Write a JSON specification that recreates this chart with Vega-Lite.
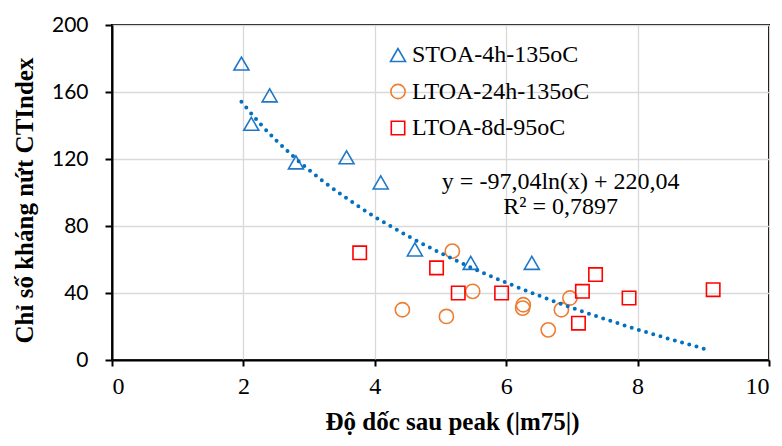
{
  "$schema": "https://vega.github.io/schema/vega-lite/v6.json",
  "autosize": "none",
  "width": 657,
  "height": 335,
  "padding": {"left": 112, "top": 25, "right": 13, "bottom": 86},
  "background": "white",
  "config": {
    "view": {"stroke": "#000000", "strokeWidth": 2},
    "axis": {
      "grid": true,
      "gridColor": "#d9d9d9",
      "gridWidth": 1.3,
      "domainColor": "#000000",
      "domainWidth": 2,
      "tickColor": "#000000",
      "tickWidth": 2,
      "tickSize": 7,
      "labelColor": "#000000",
      "titleColor": "#000000",
      "titleFont": "Liberation Serif",
      "titleFontWeight": "bold",
      "titleFontSize": 25
    },
    "axisX": {
      "labelFont": "Liberation Serif, Times New Roman, serif",
      "labelFontSize": 24,
      "labelPadding": 8,
      "tickSize": 6,
      "titlePadding": 11
    },
    "axisY": {
      "labelFont": "Lato",
      "labelFontSize": 21,
      "labelPadding": 17,
      "titlePadding": 14
    },
    "legend": {
      "labelFont": "Liberation Serif",
      "labelFontSize": 24,
      "labelColor": "#000000",
      "labelLimit": 400,
      "symbolSize": 170,
      "symbolStrokeWidth": 1.6,
      "labelOffset": 2,
      "rowPadding": 12.5,
      "padding": 0
    }
  },
  "datasets": {
    "points": [
      {"series": "STOA-4h-135oC", "x": 1.97, "y": 177},
      {"series": "STOA-4h-135oC", "x": 2.40, "y": 158},
      {"series": "STOA-4h-135oC", "x": 2.12, "y": 141},
      {"series": "STOA-4h-135oC", "x": 2.80, "y": 118},
      {"series": "STOA-4h-135oC", "x": 3.57, "y": 121},
      {"series": "STOA-4h-135oC", "x": 4.09, "y": 106},
      {"series": "STOA-4h-135oC", "x": 4.61, "y": 66},
      {"series": "STOA-4h-135oC", "x": 5.46, "y": 58},
      {"series": "STOA-4h-135oC", "x": 6.39, "y": 58},
      {"series": "LTOA-24h-135oC", "x": 4.42, "y": 30},
      {"series": "LTOA-24h-135oC", "x": 5.09, "y": 26},
      {"series": "LTOA-24h-135oC", "x": 5.18, "y": 65},
      {"series": "LTOA-24h-135oC", "x": 5.49, "y": 41},
      {"series": "LTOA-24h-135oC", "x": 6.26, "y": 33},
      {"series": "LTOA-24h-135oC", "x": 6.25, "y": 31},
      {"series": "LTOA-24h-135oC", "x": 6.97, "y": 37},
      {"series": "LTOA-24h-135oC", "x": 6.84, "y": 30},
      {"series": "LTOA-24h-135oC", "x": 6.64, "y": 18},
      {"series": "LTOA-8d-95oC", "x": 3.77, "y": 64},
      {"series": "LTOA-8d-95oC", "x": 4.94, "y": 55},
      {"series": "LTOA-8d-95oC", "x": 5.27, "y": 40},
      {"series": "LTOA-8d-95oC", "x": 5.93, "y": 40},
      {"series": "LTOA-8d-95oC", "x": 7.16, "y": 41},
      {"series": "LTOA-8d-95oC", "x": 7.36, "y": 51},
      {"series": "LTOA-8d-95oC", "x": 7.10, "y": 22},
      {"series": "LTOA-8d-95oC", "x": 7.87, "y": 37},
      {"series": "LTOA-8d-95oC", "x": 9.15, "y": 42}
    ],
    "trend": [
      {"x": 1.97, "y": 154.2},
      {"x": 2.25, "y": 141.3},
      {"x": 2.5, "y": 131.1},
      {"x": 2.75, "y": 121.9},
      {"x": 3.0, "y": 113.4},
      {"x": 3.5, "y": 98.5},
      {"x": 4.0, "y": 85.5},
      {"x": 4.5, "y": 74.1},
      {"x": 5.0, "y": 63.9},
      {"x": 5.5, "y": 54.6},
      {"x": 6.0, "y": 46.2},
      {"x": 6.5, "y": 38.4},
      {"x": 7.0, "y": 31.2},
      {"x": 7.5, "y": 24.5},
      {"x": 8.0, "y": 18.2},
      {"x": 8.5, "y": 12.4},
      {"x": 9.05, "y": 6.3}
    ]
  },
  "layer": [
    {
      "data": {"name": "points"},
      "mark": {"type": "point", "filled": false, "strokeWidth": 1.6, "opacity": 1},
      "encoding": {
        "x": {
          "field": "x", "type": "quantitative",
          "scale": {"domain": [0, 10], "nice": false},
          "axis": {
            "values": [0, 2, 4, 6, 8, 10],
            "format": "d",
            "title": "Độ dốc sau peak (|m75|)",
            "titleX": 340,
            "labelFont": "Liberation Serif, Times New Roman, serif"
          }
        },
        "y": {
          "field": "y", "type": "quantitative",
          "scale": {"domain": [0, 200], "nice": false},
          "axis": {
            "values": [0, 40, 80, 120, 160, 200],
            "format": "d",
            "title": "Chỉ số kháng nứt CTIndex",
            "titleY": 175
          }
        },
        "shape": {
          "field": "series", "type": "nominal",
          "scale": {"domain": ["STOA-4h-135oC", "LTOA-24h-135oC", "LTOA-8d-95oC"], "range": ["triangle-up", "circle", "square"]},
          "legend": {"title": null, "orient": "none", "legendX": 274, "legendY": 18}
        },
        "color": {
          "field": "series", "type": "nominal",
          "scale": {"domain": ["STOA-4h-135oC", "LTOA-24h-135oC", "LTOA-8d-95oC"], "range": ["#1f77c9", "#ed7d31", "#ff0000"]},
          "legend": {"title": null, "orient": "none", "legendX": 274, "legendY": 18}
        },
        "size": {
          "field": "series", "type": "nominal",
          "scale": {"domain": ["STOA-4h-135oC", "LTOA-24h-135oC", "LTOA-8d-95oC"], "range": [225, 180, 121]},
          "legend": null
        }
      }
    },
    {
      "data": {"name": "trend"},
      "mark": {"type": "line", "color": "#0070c0", "strokeWidth": 4, "strokeCap": "round", "strokeDash": [0, 7.5], "interpolate": "monotone"},
      "encoding": {
        "x": {"field": "x", "type": "quantitative"},
        "y": {"field": "y", "type": "quantitative"}
      }
    },
    {
      "data": {"values": [{"t": "y = -97,04ln(x) + 220,04"}]},
      "mark": {"type": "text", "font": "Liberation Serif", "fontSize": 24, "color": "#000000", "align": "center", "baseline": "middle"},
      "encoding": {
        "x": {"datum": 6.83, "type": "quantitative"},
        "y": {"datum": 106, "type": "quantitative"},
        "text": {"field": "t"}
      }
    },
    {
      "data": {"values": [{"t": "R² = 0,7897"}]},
      "mark": {"type": "text", "font": "Liberation Serif", "fontSize": 24, "color": "#000000", "align": "center", "baseline": "middle"},
      "encoding": {
        "x": {"datum": 6.83, "type": "quantitative"},
        "y": {"datum": 91.3, "type": "quantitative"},
        "text": {"field": "t"}
      }
    }
  ]
}
